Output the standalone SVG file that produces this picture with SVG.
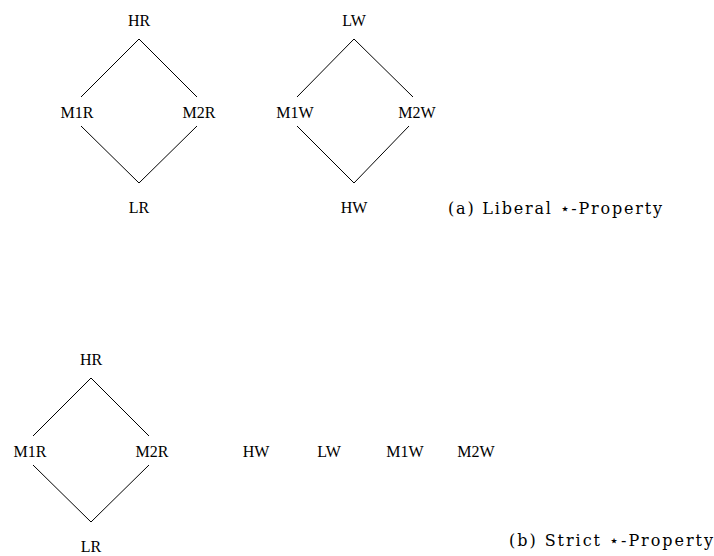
<svg xmlns="http://www.w3.org/2000/svg" width="714" height="556" viewBox="0 0 714 556">
<style>
.lbl{font-family:'Liberation Serif','Times New Roman','DejaVu Serif',serif;font-size:16px;fill:#000;text-anchor:middle}
.cap{font-family:'DejaVu Serif','Liberation Serif',serif;font-size:16px;fill:#000}
.edge{stroke:#000;stroke-width:1;fill:none}
</style>
<rect width="714" height="556" fill="#fff"/>
<g id="connectors">
<polyline class="edge" points="81,97 139,39 197,97"/>
<polyline class="edge" points="81,126 139,183 197,126"/>
<polyline class="edge" points="297,97 354,39 413,97"/>
<polyline class="edge" points="297,126 354,183 409,126"/>
<polyline class="edge" points="33,436 91,378 149,436"/>
<polyline class="edge" points="33,465 91,522 149,465"/>
</g>
<g id="a-HR"><text class="lbl" x="139" y="26">HR</text></g>
<g id="a-M1R"><text class="lbl" x="77" y="118">M1R</text></g>
<g id="a-M2R"><text class="lbl" x="199" y="118">M2R</text></g>
<g id="a-LR"><text class="lbl" x="139" y="213">LR</text></g>
<g id="a-LW"><text class="lbl" x="354" y="26">LW</text></g>
<g id="a-M1W"><text class="lbl" x="295" y="118">M1W</text></g>
<g id="a-M2W"><text class="lbl" x="417" y="118">M2W</text></g>
<g id="a-HW"><text class="lbl" x="354" y="213">HW</text></g>
<g id="cap-a"><text class="cap" x="448" y="214" textLength="214" lengthAdjust="spacing">(a) Liberal ⋆-Property</text></g>
<g id="b-HR"><text class="lbl" x="91" y="365">HR</text></g>
<g id="b-M1R"><text class="lbl" x="30" y="457">M1R</text></g>
<g id="b-M2R"><text class="lbl" x="152" y="457">M2R</text></g>
<g id="b-LR"><text class="lbl" x="91" y="552">LR</text></g>
<g id="b-HW"><text class="lbl" x="256" y="457">HW</text></g>
<g id="b-LW"><text class="lbl" x="329" y="457">LW</text></g>
<g id="b-M1W"><text class="lbl" x="405" y="457">M1W</text></g>
<g id="b-M2W"><text class="lbl" x="476" y="457">M2W</text></g>
<g id="cap-b"><text class="cap" x="509" y="546" textLength="204" lengthAdjust="spacing">(b) Strict ⋆-Property</text></g>
</svg>
